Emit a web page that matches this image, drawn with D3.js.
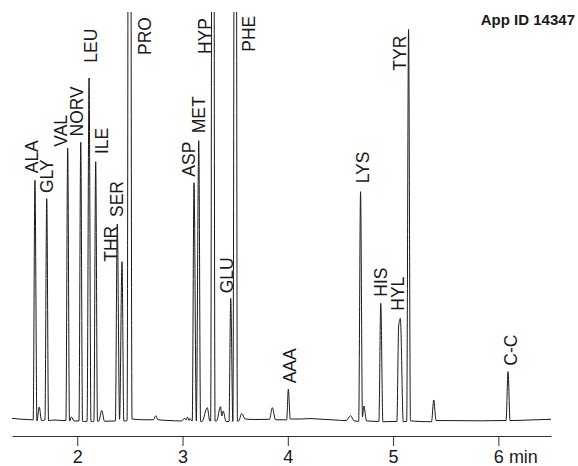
<!DOCTYPE html>
<html><head><meta charset="utf-8">
<script src="https://cdn.jsdelivr.net/npm/d3@7"></script>
<style>body{margin:0;background:#fff} svg{display:block}</style>
</head><body>
<svg id="chart" width="578" height="466"></svg>
<script>
// chromatogram trace: retention time (min) and detector signal (relative units)
const traceTime = [
  1.380,1.475,1.570,1.581,1.598,1.617,1.639,1.660,1.693,1.710,1.727,1.788,1.855,
  1.892,1.909,1.926,1.945,1.969,2.016,2.033,2.050,2.069,2.093,2.112,2.130,2.144,
  2.158,2.175,2.192,2.205,2.232,2.259,2.330,2.362,2.380,2.402,2.425,2.442,2.455,
  2.473,2.496,2.520,2.549,2.644,2.724,2.745,2.767,2.881,2.986,3.022,3.033,3.046,
  3.060,3.069,3.092,3.109,3.131,3.154,3.171,3.185,3.235,3.259,3.267,3.288,3.309,
  3.323,3.361,3.373,3.386,3.413,3.441,3.458,3.478,3.503,3.521,3.533,3.562,3.594,
  3.689,3.826,3.853,3.883,3.989,4.005,4.023,4.116,4.211,4.325,4.449,4.553,4.596,
  4.629,4.673,4.691,4.709,4.722,4.748,4.819,4.865,4.883,4.903,4.990,5.036,5.053,
  5.069,5.097,5.129,5.147,5.165,5.178,5.256,5.365,5.386,5.408,5.541,5.826,6.073,
  6.092,6.111,6.301,6.500
];
const traceSignal = [
  0.29,0.05,-0.07,-0.12,58.70,-0.37,3.07,-0.25,-0.12,54.18,-0.25,-0.12,-0.25,
  -0.25,66.55,-0.37,0.61,-0.37,-0.37,68.02,-0.44,-0.49,-0.44,83.80,-0.44,-0.49,
  -0.44,63.26,-0.44,-0.37,2.21,-0.44,-0.37,-0.37,47.98,0.05,38.72,-0.37,-0.37,
  -0.25,350,0.12,0.05,-0.07,-0.07,0.93,-0.07,-0.25,-0.37,0.25,-0.12,0.61,
  -0.25,0.25,-0.37,58.11,-0.37,68.42,-0.44,-0.49,2.90,-0.37,-0.37,300,-0.37,
  -0.37,3.14,0.86,2.09,-0.49,-0.49,29.74,-0.49,300,-0.37,-0.37,1.47,0.12,
  0.00,0.05,2.90,-0.07,-0.07,7.48,0.12,0.12,0.22,0.05,-0.12,-0.27,0.93,
  -0.32,-0.44,55.90,0.61,3.31,-0.37,-0.44,-0.49,28.52,-0.56,-0.49,-0.49,22.94,
  24.83,-0.56,-0.49,95.75,-0.37,-0.37,-0.49,-0.56,4.79,-0.25,-0.27,-0.32,-0.25,
  11.73,-0.25,-0.12,0.05
];
// peak labels and where each label starts (time, signal)
const peakNames   = ["ALA","GLY","VAL","NORV","LEU","ILE","THR","SER","PRO","ASP","MET","HYP","GLU","PHE","AAA","LYS","HIS","HYL","TYR","C-C"];
const labelTime   = [1.630,1.770,1.898,2.055,2.183,2.292,2.373,2.439,2.705,3.114,3.214,3.275,3.480,3.689,4.078,4.772,4.943,5.104,5.123,6.173];
const labelSignal = [60.42,55.58,66.94,69.45,87.56,65.15,38.72,49.69,89.45,59.58,70.23,89.69,30.97,90.26,8.88,57.96,30.13,26.70,85.60,13.20];
const tickValues = [2,3,4,5,6];
const tickLabels = ["2","3","4","5","6 min"];
const appId = "App ID 14347";

const svg = d3.select("#chart");
const x = d3.scaleLinear().domain([1.38, 6.5]).range([12, 551]);
const y = d3.scaleLinear().domain([0, 100]).range([419.5, 12]);

svg.append("defs").append("clipPath").attr("id","clip")
  .append("rect").attr("x",0).attr("y",12).attr("width",578).attr("height",454);

const pts = traceTime.map((t,i)=>[t, traceSignal[i]]);
const line = d3.line().x(d=>x(d[0])).y(d=>y(d[1])).curve(d3.curveMonotoneX);
svg.append("path").attr("clip-path","url(#clip)")
  .attr("d", line(pts)).attr("fill","none")
  .attr("stroke","#1a1a1a").attr("stroke-width",1);

// labels
svg.append("g").selectAll("text").data(peakNames).join("text")
  .attr("transform",(d,i)=>`translate(${x(labelTime[i])},${y(labelSignal[i])}) rotate(-90)`)
  .attr("text-anchor","start")
  .style("font-family","'Liberation Sans', Arial, Helvetica, sans-serif")
  .style("font-size","17.5px").attr("fill","#1a1a1a")
  .text(d=>d);

// axis
const axis = d3.axisBottom(x).tickValues(tickValues)
  .tickFormat((d,i)=>tickLabels[i]).tickSize(10).tickSizeOuter(0).tickPadding(4);
const gx = svg.append("g").attr("transform","translate(0,436)").call(axis);
gx.select(".domain").attr("stroke","#333");
gx.selectAll(".tick line").attr("stroke","#333");
gx.selectAll(".tick text")
  .style("font-family","'Liberation Sans', Arial, Helvetica, sans-serif")
  .style("font-size","18px").attr("fill","#1a1a1a");
gx.selectAll(".tick text").filter((d,i)=>i===tickValues.length-1)
  .attr("text-anchor","start").attr("x",-5);

svg.append("text").attr("x",575).attr("y",25).attr("text-anchor","end")
  .style("font-family","'Liberation Sans', Arial, sans-serif")
  .style("font-weight","bold").style("font-size","15px")
  .attr("fill","#1a1a1a").text(appId);
</script>
</body></html>
